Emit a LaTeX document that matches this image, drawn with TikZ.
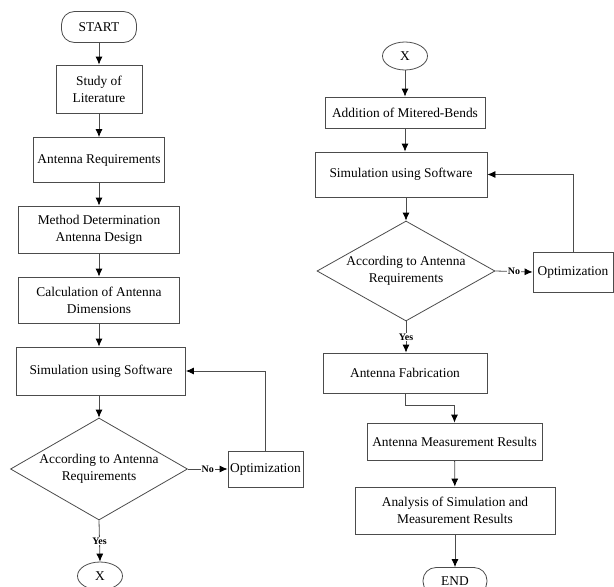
\documentclass[tikz,border=0pt]{standalone}
\usepackage{fontspec}
\setmainfont{Liberation Serif}
\usepackage{tikz}
\usetikzlibrary{arrows.meta}
\usetikzlibrary{shapes.geometric}
\newcommand{\boxfont}{\fontsize{13.4}{17}\selectfont}
\tikzset{blok/.style={draw=black!70, line width=0.8pt, fill=white, align=center, inner sep=1pt, font=\boxfont}}
\tikzset{term/.style={blok, rounded corners=13pt}}
\tikzset{cek/.style={diamond, draw=black!70, line width=0.8pt, fill=white, aspect=1.75, inner sep=0pt, align=center, font=\boxfont}}
\tikzset{konek/.style={ellipse, draw=black!70, line width=0.8pt, fill=white, inner sep=0pt, font=\boxfont}}
\tikzset{panah/.style={draw=black!70, line width=0.8pt, ->, >={Latex[length=8pt,width=7pt,color=black]}}}
\tikzset{lbl/.style={fill=white, inner sep=1pt, font=\fontsize{10}{12}\selectfont\bfseries}}

\begin{document}
\begin{tikzpicture} [x=1pt, y=-1pt]
\useasboundingbox (0,0) rectangle (614,587);

% left column
\node[term, minimum width=75pt, minimum height=31pt] (start) at (99,27) {START};
\node[blok, minimum width=86pt, minimum height=48pt] (lit) at (99,89) {Study of\\Literature};
\node[blok, minimum width=131pt, minimum height=45pt] (req) at (99,160) {Antenna Requirements};
\node[blok, minimum width=161pt, minimum height=47pt] (meth) at (99,229.5) {Method Determination\\Antenna Design};
\node[blok, minimum width=161pt, minimum height=46pt] (calc) at (99,300) {Calculation of Antenna\\Dimensions};
\node[blok, minimum width=169pt, minimum height=48pt] (sim1) at (101,371) {Simulation using Software};
\node[cek, minimum width=177pt, minimum height=102pt] (dec1) at (99,469) {According to Antenna\\Requirements};
\node[blok, minimum width=75pt, minimum height=36pt] (opt1) at (265.5,469) {Optimization};
\node[konek, minimum width=45pt, minimum height=28pt] (x1) at (100,576) {X};

\draw[panah] (start) -- (lit);
\draw[panah] (lit) -- (req);
\draw[panah] (req) -- (meth);
\draw[panah] (meth) -- (calc);
\draw[panah] (calc) -- (calc |- sim1.north);
\draw[panah] (sim1.south -| dec1) -- (dec1.north);
\draw[panah] (dec1.east) -- node[lbl]{No} (opt1.west);
\draw[panah] (opt1.north) |- (sim1.east);
\draw[panah] (dec1.south) -- node[lbl]{Yes} (x1.north);

% right column
\node[konek, minimum width=45pt, minimum height=28pt] (x2) at (405,56) {X};
\node[blok, minimum width=160pt, minimum height=31pt] (mit) at (405,112.5) {Addition of Mitered-Bends};
\node[blok, minimum width=172pt, minimum height=45pt] (sim2) at (401,174.5) {Simulation using Software};
\node[cek, minimum width=178pt, minimum height=100pt] (dec2) at (406,271) {According to Antenna\\Requirements};
\node[blok, minimum width=80pt, minimum height=40pt] (opt2) at (573,272) {Optimization};
\node[blok, minimum width=164pt, minimum height=40pt] (fab) at (405,373) {Antenna Fabrication};
\node[blok, minimum width=175pt, minimum height=37pt] (meas) at (454.5,441.5) {Antenna Measurement Results};
\node[blok, minimum width=200pt, minimum height=47pt] (ana) at (455,510.5) {Analysis of Simulation and\\Measurement Results};
\node[term, minimum width=64pt, minimum height=27pt] (endn) at (455,581) {END};

\draw[panah] (x2) -- (mit);
\draw[panah] (mit) -- (mit |- sim2.north);
\draw[panah] (sim2.south -| dec2) -- (dec2.north);
\draw[panah] (dec2.east) -- node[lbl]{No} (opt2.west);
\draw[panah] (opt2.north) |- (sim2.east);
\draw[panah] (dec2.south) -- node[lbl]{Yes} (dec2.south |- fab.north);
\draw[panah] (fab.south) -- ++(0,12) -| (meas.north);
\draw[panah] (meas) -- (ana);
\draw[panah] (ana) -- (endn);
\end{tikzpicture}
\end{document}
